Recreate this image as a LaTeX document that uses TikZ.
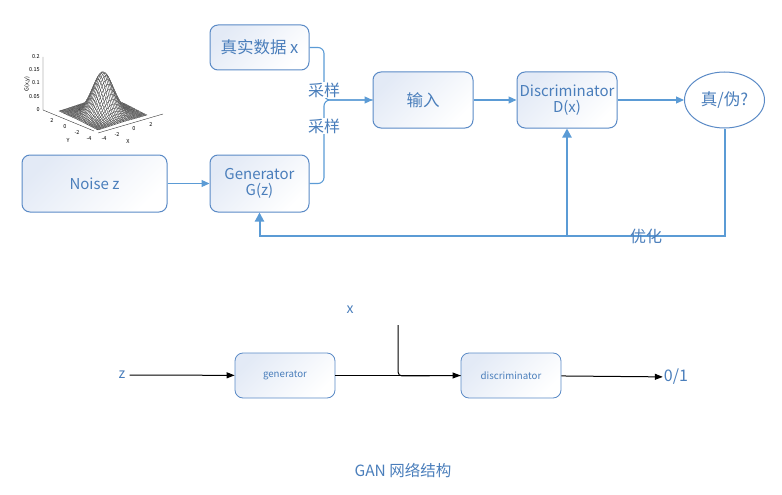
\documentclass[tikz,border=0pt]{standalone}
\usepackage{fontspec}
\setmainfont{Noto Sans CJK SC}
\usetikzlibrary{arrows.meta,shapes.geometric}
\definecolor{bd}{HTML}{5A8AC6}
\definecolor{tx}{HTML}{4A7EBB}
\definecolor{ln}{HTML}{5B9BD5}
\definecolor{sh}{HTML}{E3EAF6}
\begin{document}
\begin{tikzpicture}[x=1pt,y=-1pt,
  box/.style={draw=bd, line width=1pt, rounded corners=8pt, top color=sh, bottom color=white, shading angle=45, text=tx, font=\fontsize{15}{17}\selectfont, align=center, minimum width=100pt, minimum height=56pt, inner sep=0pt},
  cjk/.style={font=\fontsize{16.5}{18}\selectfont},
  sbox/.style={draw=bd, line width=0.8pt, rounded corners=8pt, top color=sh, bottom color=white, shading angle=45, text=tx, font=\fontsize{9.7}{11}\selectfont, minimum width=100pt, minimum height=45pt, inner sep=0pt},
  lbl/.style={text=tx, font=\fontsize{16}{18}\selectfont, inner sep=1pt},
  conn/.style={draw=ln, line width=1.1pt, -{Triangle[length=8pt,width=7pt]}},
  fb/.style={draw=ln, line width=2pt},
  blk/.style={draw=black, line width=1pt, -{Triangle[length=8pt,width=6pt]}},
  tiny/.style={font=\fontsize{5.5}{6}\selectfont, inner sep=0pt, text=black},
  declare function={gz(\u,\v)=0.159*exp(-(\u*\u+\v*\v)/3.6);
    px(\u,\v)=98+(\u+4)*6.125-(\v+4)*4.875;
    py(\u,\v)=130-(\u+4)*1.875-(\v+4)*2.375-258*gz(\u,\v);}
]
\useasboundingbox (0,0) rectangle (782,495);

% ---------- small 3D gaussian plot ----------
\foreach \i in {31,...,0}{
  \foreach \j in {31,...,0}{
    \pgfmathsetmacro\ua{-4+\i/4}
    \pgfmathsetmacro\ub{-4+(\i+1)/4}
    \pgfmathsetmacro\va{-4+\j/4}
    \pgfmathsetmacro\vb{-4+(\j+1)/4}
    \filldraw[draw=black!75, fill=white, line width=0.25pt]
      ({px(\ua,\va)},{py(\ua,\va)}) -- ({px(\ub,\va)},{py(\ub,\va)}) --
      ({px(\ub,\vb)},{py(\ub,\vb)}) -- ({px(\ua,\vb)},{py(\ua,\vb)}) -- cycle;
  }
}
\coordinate (za) at (43,57);
\coordinate (zb) at (43,110);
\coordinate (ya) at (94,131);
\coordinate (xa) at (98,133);
\coordinate (xb) at (163,114);
\draw[line width=0.4pt, black!80] (za) -- (zb) -- (ya);
\draw[line width=0.4pt, black!80] (xa) -- (xb);
\foreach \yy/\t in {57/0.2,70/0.15,83/0.1,97/0.05,110/0}{
  \node[tiny, anchor=east] (zt\yy) at (40,\yy) {\t};
}
\node[tiny, rotate=90] (zl) at (27,84) {G(x,y)};
\foreach \xx/\yy/\t in {52/121/2,65/127/0,77/133/-2,89/139/-4}{
  \node[tiny] (yt\xx) at (\xx,\yy) {\t};
}
\node[tiny] (yl) at (68,140) {Y};
\foreach \xx/\yy/\t in {104/139/-4,117/135/-2,134/129/0,151/125/2}{
  \node[tiny] (xt\xx) at (\xx,\yy) {\t};
}
\node[tiny] (xl) at (128,141) {X};

% ---------- top diagram ----------
\node[box, minimum width=145pt, minimum height=57pt] (noise) at (94.5,183.5) {Noise z};
\node[box, cjk, minimum width=99pt, minimum height=45pt] (real) at (259.5,47.5) {真实数据 x};
\node[box, minimum width=99pt, minimum height=57pt] (gen) at (259.5,183.5) {Generator\\[-1pt]G(z)};
\node[box, cjk] (inp) at (423,100) {输入};
\node[box] (disc) at (567,100) {Discriminator\\[-1pt]D(x)};
\node[ellipse, draw=bd, line width=1pt, fill=white, minimum width=80pt, minimum height=56pt, inner sep=0pt, text=tx, font=\fontsize{16.5}{18}\selectfont] (out) at (724.5,100) {真/伪?};

\coordinate (j) at (324,100);
\draw[draw=ln, line width=1.1pt, rounded corners=6pt] (real.east) -| (j) -- (inp.west);
\draw[conn, rounded corners=6pt] (gen.east) -| (j) -- (inp.west);
\node[lbl, fill=white] (s1) at (324,90) {采样};
\node[lbl, fill=white] (s2) at (324,126) {采样};
\draw[conn] (noise) -- (gen);
\draw[conn] (inp) -- (disc);
\draw[conn] (disc) -- (out);

\coordinate (fbr) at (724.5,236);
\coordinate (fbd) at (567,236);
\draw[fb, -{Triangle[length=9pt,width=9pt]}] (out.south) -- (fbr) -| (gen.south);
\draw[fb, -{Triangle[length=9pt,width=9pt]}] (fbd) -- (disc.south);
\node[lbl] (opt) at (646,236) {优化};

% ---------- bottom diagram ----------
\node[lbl, font=\fontsize{14}{16}\selectfont] (z) at (122,375) {z};
\node[sbox] (g2) at (285,375.5) {generator};
\node[sbox] (d2) at (511,375.5) {discriminator};
\node[lbl, font=\fontsize{16}{18}\selectfont] (o) at (676,377) {0/1};
\node[lbl, font=\fontsize{14}{16}\selectfont] (x2) at (350,310) {x};
\coordinate (xs) at (398,325);
\coordinate (xc) at (398,376);
\draw[blk, shorten <=3pt] (z) -- (g2);
\draw[blk] (g2) -- (d2);
\draw[blk] (d2) -- (o);
\draw[draw=black, line width=1pt, rounded corners=4pt] (xs) -- (xc) -- (d2.west);

\node[lbl, font=\fontsize{15.5}{17}\selectfont] (title) at (403,471) {GAN 网络结构};
\end{tikzpicture}
\end{document}
